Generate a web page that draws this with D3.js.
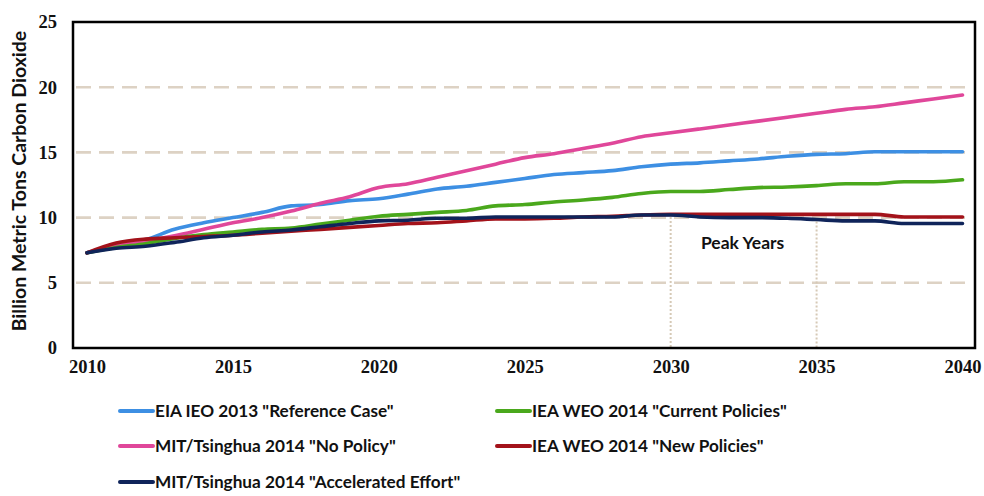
<!DOCTYPE html>
<html><head><meta charset="utf-8">
<script src="https://cdn.jsdelivr.net/npm/d3@7/dist/d3.min.js"></script>
<style>body{margin:0;background:#fff}svg{display:block}</style>
</head><body><svg id="c" width="984" height="496"></svg>
<script>
const years = d3.range(2010, 2041);
const eiaReference = [7.3,7.8,8.3,9.1,9.6,10.0,10.4,10.9,11.0,11.3,11.45,11.8,12.2,12.4,12.7,13.0,13.3,13.45,13.6,13.9,14.1,14.2,14.35,14.5,14.7,14.85,14.9,15.05,15.05,15.05,15.05];
const ieaCurrent = [7.3,7.7,8.0,8.4,8.7,8.9,9.1,9.2,9.5,9.8,10.1,10.25,10.4,10.55,10.9,11.0,11.2,11.35,11.55,11.85,12.0,12.0,12.15,12.3,12.35,12.45,12.6,12.6,12.75,12.75,12.9];
const mitNoPolicy = [7.3,7.9,8.2,8.6,9.1,9.6,10.0,10.5,11.1,11.6,12.3,12.6,13.1,13.6,14.1,14.6,14.9,15.3,15.7,16.2,16.5,16.8,17.1,17.4,17.7,18.0,18.3,18.5,18.8,19.1,19.4];
const ieaNew = [7.3,8.05,8.35,8.45,8.55,8.65,8.8,8.95,9.1,9.25,9.4,9.55,9.6,9.75,9.9,9.9,9.95,10.05,10.1,10.2,10.25,10.25,10.25,10.25,10.25,10.25,10.25,10.25,10.05,10.05,10.05];
const mitAccelerated = [7.3,7.65,7.8,8.1,8.45,8.65,8.9,9.05,9.3,9.55,9.75,9.8,9.95,9.95,10.05,10.05,10.05,10.05,10.05,10.2,10.2,10.05,10.0,10.0,9.95,9.85,9.75,9.75,9.55,9.55,9.55];
const seriesNames = ['EIA IEO 2013 "Reference Case"','IEA WEO 2014 "Current Policies"','MIT/Tsinghua 2014 "No Policy"','IEA WEO 2014 "New Policies"','MIT/Tsinghua 2014 "Accelerated Effort"'];
const seriesColors = ['#3d8fe3','#4aa81c','#e0479a','#a3121a','#0f245a'];
const xTicks = [2010,2015,2020,2025,2030,2035,2040];
const yTicks = [0,5,10,15,20,25];
const peakYears = [2030,2035];
const peakLabel = "Peak Years";
const yTitle = "Billion Metric Tons Carbon Dioxide";

const seriesValues = [eiaReference, ieaCurrent, mitNoPolicy, ieaNew, mitAccelerated];
const drawOrder = [0,2,1,3,4];

const svg = d3.select('#c');
const frame = {l:73, r:975, t:22, b:348};
const x = d3.scaleLinear().domain([2010,2040]).range([87,962.5]);
const y = d3.scaleLinear().domain([0,25]).range([frame.b, frame.t]);

// gridlines
svg.append('g').selectAll('line').data(yTicks.filter(v=>v>0&&v<25)).join('line')
  .attr('x1',76).attr('x2',973).attr('y1',d=>y(d)).attr('y2',d=>y(d))
  .attr('stroke','#ddd2c4').attr('stroke-width',2.6).attr('stroke-dasharray','15,8');

// peak vertical lines
const peakG = svg.append('g');
peakYears.forEach(py=>{
  const i = years.indexOf(py);
  peakG.append('line').attr('x1',x(py)).attr('x2',x(py))
    .attr('y1',y(mitAccelerated[i])+2).attr('y2',frame.b)
    .attr('stroke','#d6c9b6').attr('stroke-width',2).attr('stroke-dasharray','2,2');
});

// lines
const line = d3.line().x((d,i)=>x(years[i])).y(d=>y(d)).curve(d3.curveMonotoneX);
drawOrder.forEach(k=>{
  svg.append('path').datum(seriesValues[k]).attr('d',line)
    .attr('fill','none').attr('stroke',seriesColors[k]).attr('stroke-width',3.6)
    .attr('stroke-linecap','round').attr('stroke-linejoin','round');
});

// frame
svg.append('rect').attr('x',frame.l).attr('y',frame.t).attr('width',frame.r-frame.l).attr('height',frame.b-frame.t)
  .attr('fill','none').attr('stroke','#000').attr('stroke-width',2.5);

// axes
const xAxis = d3.axisBottom(x).tickValues(xTicks).tickFormat(d3.format('d')).tickSize(0).tickPadding(12);
const gx = svg.append('g').attr('transform',`translate(0,${frame.b})`).call(xAxis);
gx.select('.domain').remove();
gx.selectAll('text').attr('font-family','"Liberation Serif", serif').attr('font-weight','bold').attr('font-size',18.5).attr('fill','#111');

const yAxis = d3.axisLeft(y).tickValues(yTicks).tickSize(0).tickPadding(16);
const gy = svg.append('g').attr('transform',`translate(${frame.l},0)`).call(yAxis);
gy.select('.domain').remove();
gy.selectAll('text').attr('font-family','"Liberation Serif", serif').attr('font-weight','bold').attr('font-size',18.5).attr('fill','#111');

svg.append('text').attr('transform',`translate(26,${(frame.t+frame.b)/2 - 4}) rotate(-90)`)
  .attr('text-anchor','middle').attr('font-family','Lato, sans-serif').attr('font-weight','bold')
  .attr('font-size',19.5).attr('fill','#111').text(yTitle);

svg.append('text').attr('x',(x(2030)+x(2035))/2 - 1).attr('y',249).attr('text-anchor','middle')
  .attr('font-family','Lato, sans-serif').attr('font-weight','bold').attr('font-size',17.5).attr('fill','#111').text(peakLabel);

// legend
const legPos = [[120,411],[497,411],[120,446],[497,446],[120,482]];
seriesNames.forEach((n,k)=>{
  const [lx,ly] = legPos[k];
  const g = svg.append('g').attr('transform',`translate(${lx},${ly})`);
  g.append('line').attr('x1',0).attr('x2',33).attr('stroke',seriesColors[k]).attr('stroke-width',4).attr('stroke-linecap','round');
  g.append('text').attr('x',35).attr('y',6).attr('font-family','Lato, sans-serif').attr('font-weight','bold')
    .attr('font-size',17.2).attr('fill','#111').text(n);
});
</script></body></html>
